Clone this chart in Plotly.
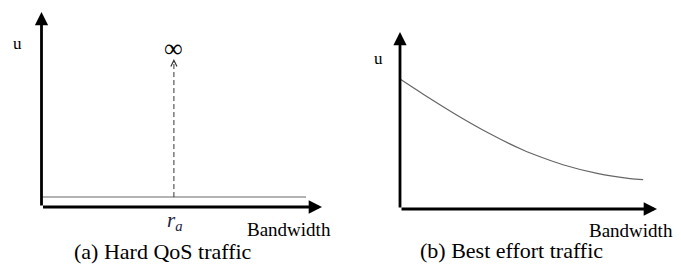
import plotly.graph_objects as go

# ---- data ----
# (a) Hard QoS traffic
ra_pos = 4.72          # position of r_a on bandwidth axis
hard_level = 0.51      # constant utility level
hard_end = 9.43        # end of constant line
dash_top = 7.44        # top of dashed (infinite) impulse
# (b) Best effort traffic
be_bw = [0.0, 0.89, 2.22, 3.50, 4.79, 5.45, 6.34, 7.67, 8.95, 9.46]
be_u = [7.34, 6.50, 5.30, 4.25, 3.33, 2.95, 2.50, 2.01, 1.72, 1.66]

axis_len = 10
captions = ["(a) Hard QoS traffic", "(b) Best effort traffic"]
xlabel = "Bandwidth"
ylabel = "u"

FONT = "Liberation Serif"
W, H = 681, 266

def dom_x(origin_px, ppu, lo, hi):
    return [(origin_px + lo * ppu) / W, (origin_px + hi * ppu) / W]

def dom_y(origin_px, ppu, lo, hi):
    return [(H - (origin_px - lo * ppu)) / H, (H - (origin_px - hi * ppu)) / H]

L_X0, L_XS = 41.5, 28.05
L_Y0, L_YS = 207.0, 19.5
R_X0, R_XS = 400.0, 25.7
R_Y0, R_YS = 209.0, 17.7
L_XR, L_YR = [-1.4, 10.0], [-2.8, 10.0]
R_XR, R_YR = [-1.2, 10.0], [-3.0, 10.0]

fig = go.Figure()

fig.add_trace(go.Scatter(x=[0, hard_end], y=[hard_level, hard_level], mode="lines",
                         line=dict(color="#9a9a9a", width=1.6), xaxis="x", yaxis="y",
                         showlegend=False, hoverinfo="skip"))
fig.add_trace(go.Scatter(x=[ra_pos, ra_pos], y=[hard_level, dash_top], mode="lines",
                         line=dict(color="#333333", width=1, dash="5px,3px"), xaxis="x", yaxis="y",
                         showlegend=False, hoverinfo="skip"))
fig.add_trace(go.Scatter(x=be_bw, y=be_u, mode="lines",
                         line=dict(color="#666666", width=1.2, shape="spline", smoothing=0.8),
                         xaxis="x2", yaxis="y2", showlegend=False, hoverinfo="skip"))

ann = []
def axis_arrow(xr, yr, x, y):
    ann.append(dict(xref=xr, yref=yr, axref=xr, ayref=yr, x=x, y=y, ax=0, ay=0,
                    showarrow=True, arrowhead=2, arrowwidth=2.8, arrowsize=0.95,
                    arrowcolor="black", text=""))

for xr, yr in (("x", "y"), ("x2", "y2")):
    axis_arrow(xr, yr, 0, axis_len)
    axis_arrow(xr, yr, axis_len, 0)

ann.append(dict(xref="x", yref="y", x=ra_pos, y=dash_top + 0.15, ax=0, ay=5,
                showarrow=True, arrowhead=5, arrowwidth=1, arrowsize=1.2, arrowcolor="#333", text=""))

def txt(xr, yr, x, y, t, size, xanchor="center", color="black"):
    ann.append(dict(xref=xr, yref=yr, x=x, y=y, text=t, showarrow=False, xanchor=xanchor,
                    yanchor="middle", font=dict(family=FONT, size=size, color=color)))

txt("x", "y", ra_pos, 8.15, "∞", 26)
txt("x", "y", -0.87, 8.41, ylabel, 17)
txt("x", "y", ra_pos + 0.05, -0.72, "<i>r</i><sub><i>a</i></sub>", 21, color="#1a2340")
txt("x", "y", 8.81, -1.13, xlabel, 19)
txt("x", "y", 4.33, -2.26, captions[0], 22)

txt("x2", "y2", -0.82, 8.53, ylabel, 17)
txt("x2", "y2", 7.28, -1.24, xlabel, 19, xanchor="left")
txt("x2", "y2", 4.32, -2.37, captions[1], 22)

def hidden(rng):
    return dict(visible=False, range=rng, fixedrange=True)

fig.update_layout(
    width=W, height=H, margin=dict(l=0, r=0, t=0, b=0),
    paper_bgcolor="white", plot_bgcolor="white",
    xaxis=dict(hidden(L_XR), domain=dom_x(L_X0, L_XS, *L_XR)),
    yaxis=dict(hidden(L_YR), domain=dom_y(L_Y0, L_YS, *L_YR)),
    xaxis2=dict(hidden(R_XR), domain=dom_x(R_X0, R_XS, *R_XR), anchor="y2"),
    yaxis2=dict(hidden(R_YR), domain=dom_y(R_Y0, R_YS, *R_YR), anchor="x2"),
    annotations=ann,
)

fig.write_html("out.html", config={"displayModeBar": False},
               post_script="document.body.style.margin='0px';document.body.style.overflow='hidden';")
